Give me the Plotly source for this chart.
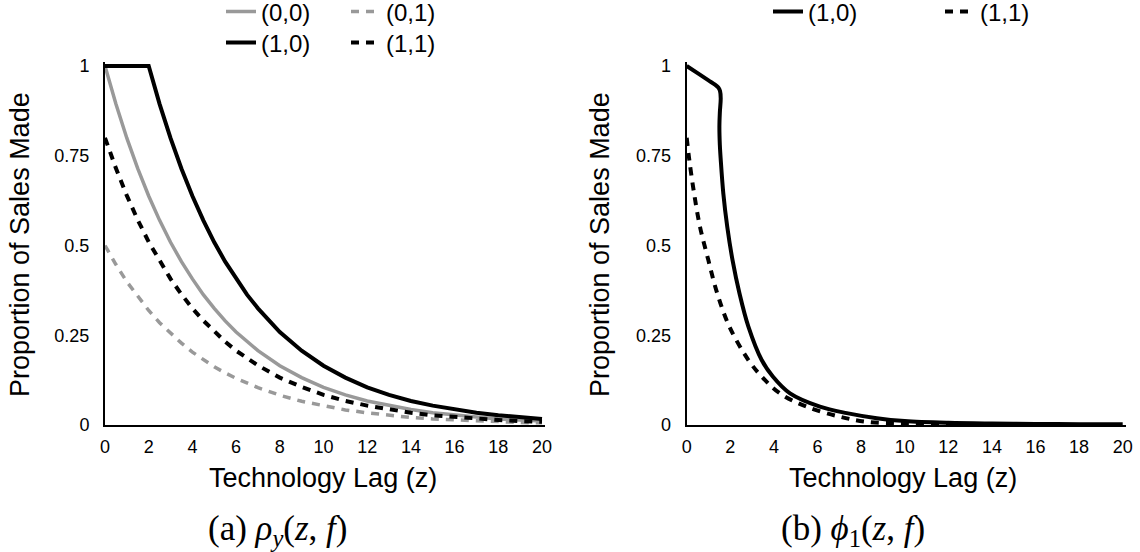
import plotly.graph_objects as go

# ---------------- data ----------------
# Panel (a): rho_y(z, f)
z_a = [0, 0.5, 1, 1.5, 2, 2.5, 3, 3.5, 4, 4.5, 5, 5.5, 6,
       7, 8, 9, 10, 11, 12, 13, 14, 15, 16, 17, 18, 19, 20]
a_00 = [1.0, 0.894, 0.799, 0.714, 0.638, 0.570, 0.509, 0.455, 0.407, 0.363, 0.325, 0.290, 0.259,
        0.207, 0.165, 0.132, 0.105, 0.084, 0.067, 0.054, 0.043, 0.034, 0.027, 0.022, 0.017, 0.014, 0.011]
a_01 = [0.50, 0.447, 0.399, 0.357, 0.319, 0.285, 0.255, 0.228, 0.203, 0.182, 0.162, 0.145, 0.130,
        0.104, 0.083, 0.066, 0.053, 0.042, 0.034, 0.027, 0.021, 0.017, 0.014, 0.011, 0.009, 0.007, 0.006]
a_11 = [0.80, 0.715, 0.639, 0.571, 0.510, 0.456, 0.407, 0.364, 0.325, 0.291, 0.260, 0.232, 0.207,
        0.166, 0.132, 0.106, 0.084, 0.067, 0.054, 0.043, 0.034, 0.027, 0.022, 0.017, 0.014, 0.011, 0.009]
z_a10 = [0, 2, 2.5, 3, 3.5, 4, 4.5, 5, 5.5, 6, 6.5, 7, 7.5, 8,
         9, 10, 11, 12, 13, 14, 15, 16, 17, 18, 19, 20]
a_10 = [1.0, 1.0, 0.894, 0.799, 0.714, 0.638, 0.570, 0.509, 0.455, 0.407, 0.363, 0.325, 0.290, 0.259,
        0.207, 0.165, 0.132, 0.105, 0.084, 0.067, 0.054, 0.043, 0.034, 0.027, 0.022, 0.017]

# Panel (b): phi_1(z, f)
z_b10 = [0, 0.5, 1.0, 1.3, 1.45, 1.53, 1.56, 1.52, 1.50, 1.52, 1.56, 1.68, 1.86, 2.10,
         2.42, 2.83, 3.44, 3.95, 4.74, 6.11, 7.34, 8.72, 10, 12, 14, 16, 18, 20]
b_10 = [1.0, 0.98, 0.96, 0.948, 0.94, 0.93, 0.91, 0.87, 0.83, 0.78, 0.74, 0.645, 0.552, 0.46,
        0.367, 0.274, 0.181, 0.135, 0.088, 0.051, 0.033, 0.019, 0.011, 0.006, 0.004, 0.003, 0.002, 0.002]
z_b11 = [0, 0.12, 0.34, 0.61, 0.99, 1.40, 1.96, 2.83, 3.44, 4.28, 5.50, 7.03, 8.26,
         10, 12, 14, 16, 18, 20]
b_11 = [0.80, 0.738, 0.645, 0.552, 0.46, 0.367, 0.274, 0.181, 0.135, 0.088, 0.051, 0.023, 0.009,
        0.004, 0.002, 0.001, 0.001, 0.0, 0.0]

x_ticks = [0, 2, 4, 6, 8, 10, 12, 14, 16, 18, 20]
y_ticks = [0, 0.25, 0.5, 0.75, 1]
y_tick_text = ["0", "0.25", "0.5", "0.75", "1"]
x_title = "Technology Lag (z)"
y_title = "Proportion of Sales Made"
cap_a = "(a) <i>ρ</i><sub><i>y</i></sub>(<i>z</i>, <i>f</i>)"
cap_b = "(b) <i>ϕ</i><sub>1</sub>(<i>z</i>, <i>f</i>)"

# ---------------- styling ----------------
W, H = 1140, 552
GRAY = "#999999"
BLACK = "#000000"
SANS = "Liberation Sans, Arial, Helvetica, sans-serif"
SERIF = "Liberation Serif, Times New Roman, serif"
DASH = "8px,7px"

fig = go.Figure()

def add(x, y, name, color, dash, xa, ya, legend, width=4, shape="linear"):
    fig.add_trace(go.Scatter(
        x=x, y=y, name=name, mode="lines",
        line=dict(color=color, width=width, dash=dash, shape=shape),
        xaxis=xa, yaxis=ya, legend=legend, hoverinfo="skip"))

add(z_a, a_00, "(0,0)", GRAY, "solid", "x", "y", "legend", width=3.5)
add(z_a, a_01, "(0,1)", GRAY, DASH, "x", "y", "legend", width=3.5)
add(z_a10, a_10, "(1,0)", BLACK, "solid", "x", "y", "legend2")
add(z_a, a_11, "(1,1)", BLACK, DASH, "x", "y", "legend2")
add(z_b10, b_10, "(1,0)", BLACK, "solid", "x2", "y2", "legend3", shape="spline")
add(z_b11, b_11, "(1,1)", BLACK, DASH, "x2", "y2", "legend3", shape="spline")

# pixel geometry
ax_l0, ax_r0 = 105, 686.7
px_per_x_l, px_per_x_r = 21.85, 21.8
xr = 20.15
y0_px, px_per_y = 425, 359
yr_top = 1.012
ydom = [1 - y0_px / H, 1 - (y0_px - yr_top * px_per_y) / H]
xdom_l = [ax_l0 / W, (ax_l0 + xr * px_per_x_l) / W]
xdom_r = [ax_r0 / W, (ax_r0 + xr * px_per_x_r) / W]

xcommon = dict(range=[0, xr], tickvals=x_ticks, ticks="", showgrid=False, zeroline=False,
               showline=True, linecolor=BLACK, linewidth=2, ticklabelstandoff=4,
               tickfont=dict(family=SANS, size=18, color=BLACK), fixedrange=True)
ycommon = dict(range=[0, yr_top], tickvals=y_ticks, ticktext=y_tick_text, ticks="",
               showgrid=False, zeroline=False, showline=True, linecolor=BLACK, linewidth=2,
               ticklabelstandoff=10, tickfont=dict(family=SANS, size=18, color=BLACK),
               fixedrange=True)

leg_common = dict(orientation="h", bgcolor="rgba(0,0,0,0)", borderwidth=0,
                  font=dict(family=SANS, size=24, color=BLACK),
                  xanchor="left", yanchor="middle", entrywidthmode="pixels")

fig.update_layout(
    width=W, height=H, autosize=False,
    margin=dict(l=0, r=0, t=0, b=0, autoexpand=False),
    paper_bgcolor="white", plot_bgcolor="white",
    xaxis=dict(domain=xdom_l, anchor="y", **xcommon),
    yaxis=dict(domain=ydom, anchor="x", **ycommon),
    xaxis2=dict(domain=xdom_r, anchor="y2", **xcommon),
    yaxis2=dict(domain=ydom, anchor="x2", **ycommon),
    legend=dict(x=221 / W, y=1 - 12 / H, entrywidth=80, **leg_common),
    legend2=dict(x=221 / W, y=1 - 43 / H, entrywidth=80, **leg_common),
    legend3=dict(x=768 / W, y=1 - 12 / H, entrywidth=127, **leg_common),
    showlegend=True,
)

ann = []
for cx in (20, 600):
    ann.append(dict(text=y_title, x=cx / W, y=1 - 245 / H, xref="paper", yref="paper",
                    xanchor="center", yanchor="middle", textangle=-90, showarrow=False,
                    font=dict(family=SANS, size=27, color=BLACK)))
for cx in (323, 903):
    ann.append(dict(text=x_title, x=cx / W, y=1 - 478 / H, xref="paper", yref="paper",
                    xanchor="center", yanchor="middle", showarrow=False,
                    font=dict(family=SANS, size=27, color=BLACK)))
for cx, txt in ((206, cap_a), (779, cap_b)):
    ann.append(dict(text=txt, x=cx / W, y=1 - 530 / H, xref="paper", yref="paper",
                    xanchor="left", yanchor="middle", showarrow=False,
                    font=dict(family=SERIF, size=35, color=BLACK)))
fig.update_layout(annotations=ann)

# remove the browser's default 8px body margin so the figure sits at the window origin
fig.write_html("out.html", config={"displayModeBar": False},
               post_script="document.body.style.margin='0';")
